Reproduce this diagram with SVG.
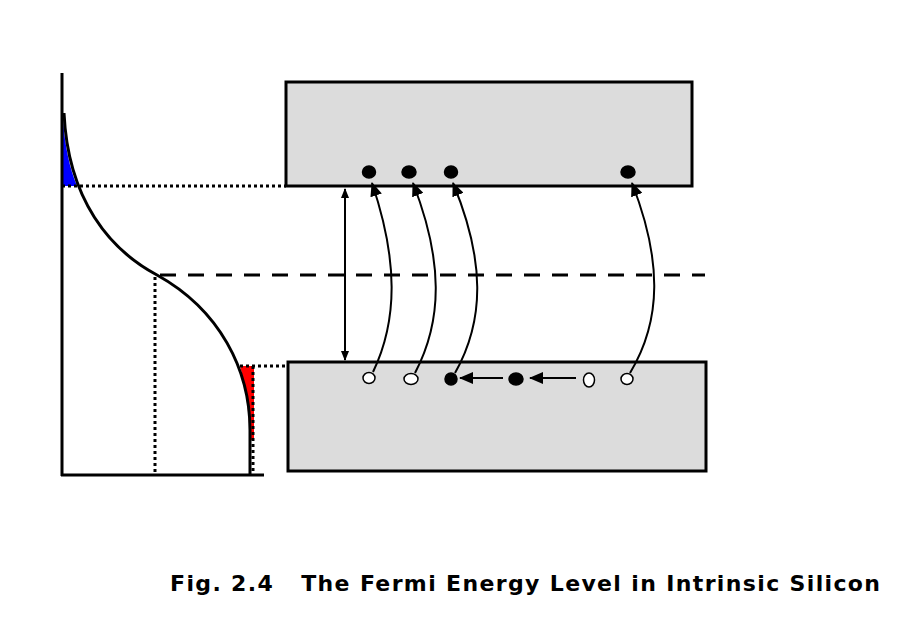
<svg xmlns="http://www.w3.org/2000/svg" width="922" height="628" viewBox="0 0 922 628">
<style>
.box{fill:#dcdcdc;stroke:#000;stroke-width:3}
.dot{stroke:#000;stroke-width:3;stroke-dasharray:3 3;fill:none}
.ln{stroke:#000;stroke-width:2;fill:none}
.e{fill:#000;stroke:#000;stroke-width:1.5}
.h{fill:#fff;stroke:#000;stroke-width:1.5}
</style>
<defs>
<marker id="a" markerWidth="10" markerHeight="8" refX="9" refY="4" orient="auto-start-reverse" markerUnits="userSpaceOnUse" viewBox="0 0 10 8"><path d="M0,0L10,4L0,8z"/></marker>
<marker id="b" markerWidth="14" markerHeight="12" refX="13" refY="6" orient="auto" markerUnits="userSpaceOnUse" viewBox="0 0 14 12"><path d="M0,0L14,6L0,12z"/></marker>
</defs>
<rect width="922" height="628" fill="#fff"/>
<g id="graph">
<path d="M63,120 Q66,160 77,186 L63,186z" fill="#00f"/>
<path d="M240,366 L254,366 L254,440 L250,440 Q248,395 240,366z" fill="#f00"/>
<line x1="62" y1="73" x2="62" y2="476" stroke="#000" stroke-width="3"/>
<line x1="61" y1="475" x2="264" y2="475" stroke="#000" stroke-width="3"/>
<path d="M64,113 C68,200 110,250 157,275 C220,310 250,370 250,430 L250,475" stroke="#000" stroke-width="3" fill="none"/>
<path class="dot" d="M62,186H286 M240,366H288 M155,277V475 M253,366V475"/>
<line x1="160" y1="275" x2="705" y2="275" stroke="#000" stroke-width="3" stroke-dasharray="16 12"/>
</g>
<g id="conduction"><rect class="box" x="286" y="82" width="406" height="104"/></g>
<g id="valence"><rect class="box" x="288" y="362" width="418" height="109"/></g>
<g id="carriers">
<ellipse class="e" cx="369" cy="172" rx="6.5" ry="6"/>
<ellipse class="e" cx="409" cy="172" rx="7" ry="6"/>
<ellipse class="e" cx="451" cy="172" rx="6.5" ry="6"/>
<ellipse class="e" cx="628" cy="172" rx="7" ry="6"/>
<ellipse class="h" cx="369" cy="378" rx="6" ry="5.5"/>
<ellipse class="h" cx="411" cy="379" rx="7" ry="5.5"/>
<ellipse class="e" cx="451" cy="379" rx="6" ry="6"/>
<ellipse class="e" cx="516" cy="379" rx="7" ry="6"/>
<ellipse class="h" cx="589" cy="380" rx="5.5" ry="7"/>
<ellipse class="h" cx="627" cy="379" rx="6" ry="5.5"/>
</g>
<g id="connectors">
<line class="ln" x1="345" y1="189" x2="345" y2="360" stroke-width="1.5" marker-start="url(#a)" marker-end="url(#a)"/>
<path class="ln" d="M373,372 C398,320 398,260 372,183" marker-end="url(#b)"/>
<path class="ln" d="M415,373 C443,320 443,260 413,183" marker-end="url(#b)"/>
<path class="ln" d="M455,373 C485,320 485,260 453,183" marker-end="url(#b)"/>
<path class="ln" d="M630,373 C662,320 662,260 632,183" marker-end="url(#b)"/>
<line class="ln" x1="503" y1="378" x2="460" y2="378" marker-end="url(#b)"/>
<line class="ln" x1="576" y1="378" x2="530" y2="378" marker-end="url(#b)"/>
</g>
<text x="170" y="591" xml:space="preserve" style="white-space:pre" font-family="DejaVu Sans, sans-serif" font-weight="bold" font-size="22" textLength="710" lengthAdjust="spacing">Fig. 2.4   The Fermi Energy Level in Intrinsic Silicon</text>
</svg>
